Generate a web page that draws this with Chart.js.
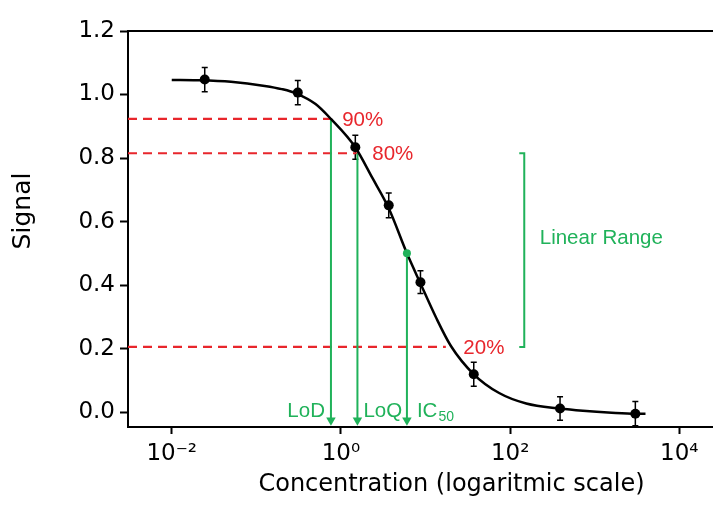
<!DOCTYPE html>
<html>
<head>
<meta charset="utf-8">
<title>Calibration curve</title>
<script src="https://cdn.jsdelivr.net/npm/chart.js@4.4.1/dist/chart.umd.min.js"></script>
<style>
  html, body { margin: 0; padding: 0; background: #ffffff; overflow: hidden; }
  #wrap { position: relative; width: 713px; height: 505px; }
</style>
</head>
<body>
<div id="wrap"><canvas id="chart" width="713" height="505"></canvas></div>
<script>
// Calibration samples: log10 concentration, mean signal and standard deviation
const sampleLogConc = [-1.61, -0.51, 0.17, 0.565, 0.94, 1.57, 2.59, 3.48];
const sampleSignal  = [1.047, 1.006, 0.834, 0.651, 0.409, 0.119, 0.011, -0.005];
const sampleError   = [0.038, 0.038, 0.038, 0.039, 0.036, 0.038, 0.037, 0.038];

// Fitted sigmoidal dose-response curve
const fitLogConc = [-2.0, -1.7, -1.3, -0.9, -0.7, -0.525, -0.3, -0.118, 0.169, 0.37, 0.565, 0.78, 0.94, 1.12, 1.30, 1.57, 1.87, 2.19, 2.59, 2.86, 3.2, 3.48, 3.6];
const fitSignal  = [1.046, 1.045, 1.040, 1.027, 1.017, 1.003, 0.970, 0.923, 0.834, 0.738, 0.642, 0.500, 0.405, 0.300, 0.208, 0.119, 0.060, 0.027, 0.011, 0.004, -0.002, -0.005, -0.005];

// Threshold levels and the concentration where each dashed guide stops
const thresholdNames  = ['90%', '80%', '20%'];
const thresholdSignal = [0.923, 0.815, 0.205];
const thresholdLogEnd = [-0.118, 0.195, 1.24];

// Figures of merit projected down to the concentration axis
const limitNames   = ['LoD', 'LoQ', 'IC'];
const limitLogConc = [-0.118, 0.195, 0.78];
const limitSignal  = [0.923, 0.815, 0.500];
const arrowTipSignal = -0.026;

// Linear range spans the 80% to 20% levels
const linearRangeSignal = [0.815, 0.205];
const linearRangeLogConc = [2.108, 2.167];

// Axis ticks
const xTickExponents = [-2, 0, 2, 4];
const yTickValues = [0, 0.2, 0.4, 0.6, 0.8, 1.0, 1.2];
const xLogRange = [-2.517, 4.398];
const yRange = [-0.047, 1.2];

const RED = '#e8262c';
const GREEN = '#20b25a';
const AXIS_FONT = "'DejaVu Sans', 'Liberation Sans', sans-serif";
const NOTE_FONT = "'Liberation Sans', Arial, sans-serif";

const pow10 = (e) => Math.pow(10, e);
const SUP = { '-': '\u207B', '0': '\u2070', '1': '\u00B9', '2': '\u00B2', '3': '\u00B3', '4': '\u2074', '5': '\u2075', '6': '\u2076', '7': '\u2077', '8': '\u2078', '9': '\u2079' };
const superscript = (n) => String(n).split('').map(c => SUP[c]).join('');

// Datasets (first listed is drawn on top)
const datasets = [];

datasets.push({
  label: 'Samples',
  data: sampleLogConc.map((lc, i) => ({ x: pow10(lc), y: sampleSignal[i] })),
  showLine: false,
  pointRadius: 5,
  pointBackgroundColor: '#000',
  pointBorderColor: '#000',
  pointBorderWidth: 0
});

datasets.push({
  label: 'IC50 point',
  data: [{ x: pow10(limitLogConc[2]), y: limitSignal[2] }],
  showLine: false,
  pointRadius: 4,
  pointBackgroundColor: GREEN,
  pointBorderWidth: 0
});

datasets.push({
  label: 'Fit',
  data: fitLogConc.map((lc, i) => ({ x: pow10(lc), y: fitSignal[i] })),
  showLine: true,
  borderColor: '#000',
  borderWidth: 2.5,
  pointRadius: 0,
  cubicInterpolationMode: 'monotone'
});

limitNames.forEach((name, i) => {
  datasets.push({
    label: name + ' arrow',
    data: [
      { x: pow10(limitLogConc[i]), y: limitSignal[i] },
      { x: pow10(limitLogConc[i]), y: arrowTipSignal }
    ],
    showLine: true,
    borderColor: GREEN,
    borderWidth: 2,
    pointRadius: [0, 5.5],
    pointStyle: 'triangle',
    rotation: 180,
    pointBackgroundColor: GREEN,
    pointBorderColor: GREEN,
    pointBorderWidth: 0
  });
});

thresholdNames.forEach((name, i) => {
  datasets.push({
    label: name + ' level',
    data: [
      { x: pow10(xLogRange[0]), y: thresholdSignal[i] },
      { x: pow10(thresholdLogEnd[i]), y: thresholdSignal[i] }
    ],
    showLine: true,
    borderColor: RED,
    borderWidth: 2.2,
    borderDash: [9, 6],
    pointRadius: 0
  });
});

datasets.push({
  label: 'Linear range',
  data: [
    { x: pow10(linearRangeLogConc[0]), y: linearRangeSignal[0] },
    { x: pow10(linearRangeLogConc[1]), y: linearRangeSignal[0] },
    { x: pow10(linearRangeLogConc[1]), y: linearRangeSignal[1] },
    { x: pow10(linearRangeLogConc[0]), y: linearRangeSignal[1] }
  ],
  showLine: true,
  borderColor: GREEN,
  borderWidth: 2,
  pointRadius: 0
});

// Vertical error bars for the samples
const errorBars = {
  id: 'errorBars',
  beforeDatasetsDraw(chart) {
    const { ctx, scales: { x, y } } = chart;
    ctx.save();
    ctx.strokeStyle = '#000';
    ctx.lineWidth = 1.5;
    sampleLogConc.forEach((lc, i) => {
      const px = x.getPixelForValue(pow10(lc));
      const top = y.getPixelForValue(sampleSignal[i] + sampleError[i]);
      const bot = y.getPixelForValue(sampleSignal[i] - sampleError[i]);
      ctx.beginPath();
      ctx.moveTo(px, top); ctx.lineTo(px, bot);
      ctx.moveTo(px - 3, top); ctx.lineTo(px + 3, top);
      ctx.moveTo(px - 3, bot); ctx.lineTo(px + 3, bot);
      ctx.stroke();
    });
    ctx.restore();
  }
};

// Top frame line
const topFrame = {
  id: 'topFrame',
  beforeDatasetsDraw(chart) {
    const { ctx, chartArea: a } = chart;
    ctx.save();
    ctx.strokeStyle = '#000';
    ctx.lineWidth = 2;
    ctx.beginPath();
    ctx.moveTo(a.left, a.top);
    ctx.lineTo(a.right, a.top);
    ctx.stroke();
    ctx.restore();
  }
};

// Text notes and axis titles
const notes = {
  id: 'notes',
  afterDatasetsDraw(chart) {
    const { ctx, chartArea: a, scales: { x, y } } = chart;
    const X = (lc) => x.getPixelForValue(pow10(lc));
    ctx.save();

    // threshold percentages
    ctx.font = '20.5px ' + NOTE_FONT;
    ctx.fillStyle = RED;
    ctx.textAlign = 'left';
    ctx.textBaseline = 'middle';
    const pctLogX = [0.015, 0.37, 1.447];
    thresholdNames.forEach((t, i) => {
      ctx.fillText(t, X(pctLogX[i]), y.getPixelForValue(thresholdSignal[i]) + 1);
    });

    // linear range
    ctx.fillStyle = GREEN;
    ctx.fillText('Linear Range', X(2.35), y.getPixelForValue(0.546));

    // limit labels at the foot of the arrows
    ctx.textBaseline = 'alphabetic';
    const base = y.getPixelForValue(-0.016);
    ctx.textAlign = 'right';
    ctx.fillText(limitNames[0], X(limitLogConc[0]) - 6, base);
    ctx.textAlign = 'left';
    ctx.fillText(limitNames[1], X(limitLogConc[1]) + 6, base);
    const icX = X(limitLogConc[2]) + 10;
    ctx.fillText(limitNames[2], icX, base);
    const icW = ctx.measureText(limitNames[2]).width;
    ctx.font = '14px ' + NOTE_FONT;
    ctx.fillText('50', icX + icW + 1, base + 4);

    // axis titles
    ctx.fillStyle = '#000';
    ctx.font = '24px ' + AXIS_FONT;
    ctx.textAlign = 'center';
    ctx.textBaseline = 'alphabetic';
    ctx.fillText('Concentration (logaritmic scale)', (a.left + a.right) / 2 + 31, 491);

    ctx.save();
    ctx.translate(23, (a.top + a.bottom) / 2 - 18);
    ctx.rotate(-Math.PI / 2);
    ctx.font = '25px ' + AXIS_FONT;
    ctx.textBaseline = 'middle';
    ctx.fillText('Signal', 0, 0);
    ctx.restore();

    ctx.restore();
  }
};

new Chart(document.getElementById('chart'), {
  type: 'scatter',
  data: { datasets },
  options: {
    responsive: false,
    animation: false,
    devicePixelRatio: 1,
    events: [],
    layout: { autoPadding: false, padding: { top: 31, right: 0, bottom: 0, left: 0 } },
    plugins: { legend: { display: false }, tooltip: { enabled: false } },
    scales: {
      x: {
        type: 'logarithmic',
        position: 'bottom',
        min: pow10(xLogRange[0]),
        max: pow10(xLogRange[1]),
        afterBuildTicks: (s) => { s.ticks = xTickExponents.map(e => ({ value: pow10(e) })); },
        afterFit: (s) => { s.height = 78; s.paddingLeft = 0; s.paddingRight = 0; },
        ticks: {
          autoSkip: false,
          maxRotation: 0,
          padding: 6,
          color: '#000',
          font: { family: AXIS_FONT, size: 23 },
          callback: (v) => '10' + superscript(Math.round(Math.log10(v)))
        },
        grid: { display: true, drawOnChartArea: false, drawTicks: true, tickLength: 7, tickWidth: 2, tickColor: '#000' },
        border: { display: true, color: '#000', width: 2 }
      },
      y: {
        type: 'linear',
        min: yRange[0],
        max: yRange[1],
        afterBuildTicks: (s) => { s.ticks = yTickValues.map(v => ({ value: v })); },
        afterFit: (s) => { s.width = 128; s.paddingTop = 0; s.paddingBottom = 0; },
        ticks: {
          padding: 5,
          color: '#000',
          font: { family: AXIS_FONT, size: 23 },
          callback: (v) => Number(v).toFixed(1)
        },
        grid: { display: true, drawOnChartArea: false, drawTicks: true, tickLength: 8, tickWidth: 2, tickColor: '#000' },
        border: { display: true, color: '#000', width: 2 }
      }
    }
  },
  plugins: [errorBars, topFrame, notes]
});
</script>
</body>
</html>
